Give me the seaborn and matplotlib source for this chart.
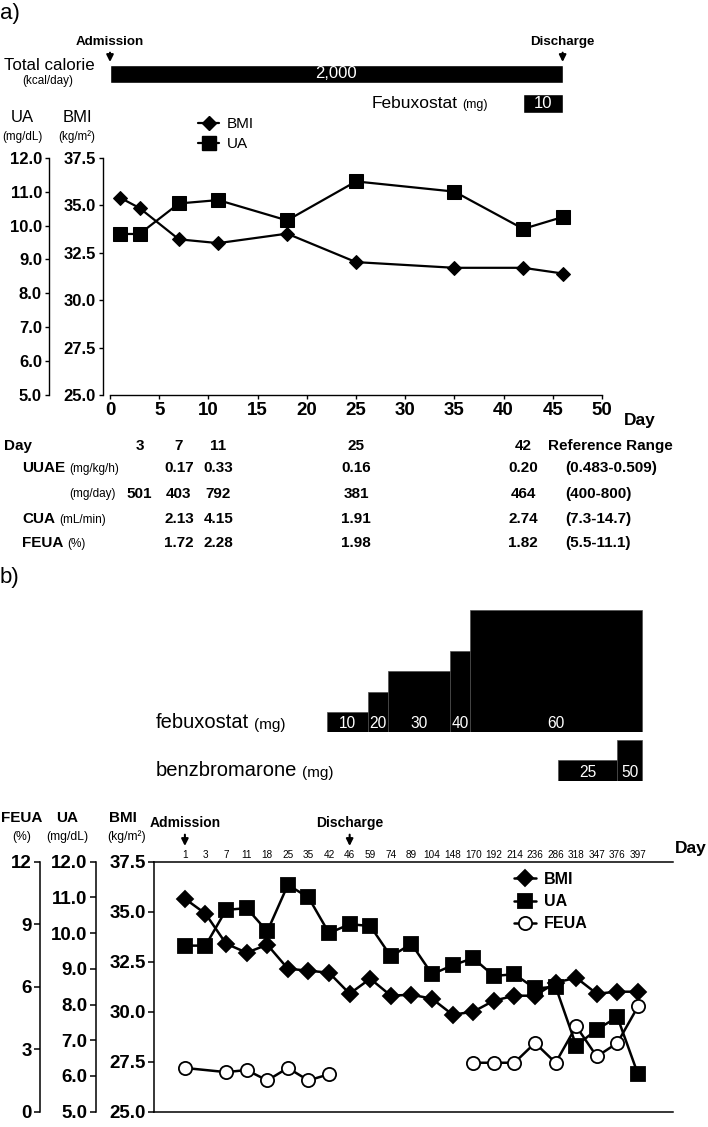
import numpy as np
import pandas as pd
import seaborn as sns
import matplotlib.pyplot as plt
from matplotlib.lines import Line2D
from matplotlib.transforms import blended_transform_factory

# ---------------- panel a) data ----------------
days_a = [1, 3, 7, 11, 18, 25, 35, 42, 46]
bmi_a = [35.4, 34.85, 33.2, 33.0, 33.5, 32.0, 31.7, 31.7, 31.4]
ua_a = [9.75, 9.75, 10.65, 10.75, 10.15, 11.3, 11.0, 9.9, 10.25]

admission_day_a = 0
discharge_day = 46
calorie_label = "2,000"
calorie_days = [0, 46]
febuxostat_a_label = "10"
febuxostat_a_days = [42, 46]

table_days = [3, 7, 11, 25, 42]
uuae_kgh = ["", "0.17", "0.33", "0.16", "0.20"]
uuae_mgday = ["501", "403", "792", "381", "464"]
cua_mlmin = ["", "2.13", "4.15", "1.91", "2.74"]
feua_pct = ["", "1.72", "2.28", "1.98", "1.82"]
ref_range = ["(0.483-0.509)", "(400-800)", "(7.3-14.7)", "(5.5-11.1)"]

# ---------------- panel b) data ----------------
days_b = [1, 3, 7, 11, 18, 25, 35, 42, 46, 59, 74, 89, 104, 148, 170,
          192, 214, 236, 286, 318, 347, 376, 397]
bmi_b = [35.65, 34.9, 33.4, 32.95, 33.35, 32.15, 32.05, 31.95, 30.9, 31.65,
         30.8, 30.85, 30.65, 29.85, 30.0, 30.55, 30.8, 30.8, 31.45, 31.7,
         30.9, 31.0, 31.0]
ua_b = [9.65, 9.65, 10.65, 10.7, 10.05, 11.35, 11.0, 10.0, 10.25, 10.2,
        9.35, 9.7, 8.85, 9.1, 9.3, 8.8, 8.85, 8.45, 8.5, 6.85, 7.3, 7.65, 6.05]
nan = np.nan
feua_b = [2.1, nan, 1.9, 2.0, 1.5, 2.1, 1.5, 1.8, nan, nan, nan, nan, nan,
          nan, 2.35, 2.35, 2.35, 3.3, 2.35, 4.1, 2.65, 3.3, 5.05]

# drug periods, in positions along the day axis of panel b
fbx_dose = [10, 20, 30, 40, 60]
fbx_start = [6.9, 8.9, 9.85, 12.85, 13.85]
fbx_stop = [8.9, 9.85, 12.85, 13.85, 22.2]
benz_dose = [25, 50]
benz_start = [18.1, 21.0]
benz_stop = [21.0, 22.2]

# ---------------- style ----------------
sns.set_style("ticks", {"axes.edgecolor": "black", "xtick.color": "black",
                        "ytick.color": "black", "text.color": "black",
                        "axes.labelcolor": "black"})
plt.rcParams["font.family"] = ["Liberation Sans", "DejaVu Sans"]

W, H = 708, 1127
fig = plt.figure(figsize=(W / 100, H / 100), dpi=100)


def fx(px):
    return px / W


def fy(py):
    return 1 - py / H


def rect(l, t, r, b):
    return [fx(l), fy(b), (r - l) / W, (b - t) / H]


def bold_ticks(ax):
    for lab in ax.get_xticklabels() + ax.get_yticklabels():
        lab.set_fontweight("bold")


def add_unit(ax, t, unit, size, gap=3):
    ax.annotate(unit, xy=(1, 0), xycoords=t, xytext=(gap, 0),
                textcoords="offset points", ha="left", va="bottom",
                fontsize=size, annotation_clip=False)


line_a = dict(color="k", linewidth=1.6, markeredgecolor="k", markerfacecolor="k")

# ================= panel a) =================
fig.text(0.0, fy(14), "a)", fontsize=16, va="center", ha="left")

ax_a = fig.add_axes(rect(110, 157.7, 602, 395))
sns.lineplot(x=days_a, y=bmi_a, ax=ax_a, marker="D", markersize=7.5, **line_a)
ax_a.set_xlim(0, 50)
ax_a.set_ylim(25, 37.5)
ax_a.set_xticks(range(0, 51, 5))
ax_a.set_yticks(np.arange(25, 37.6, 2.5))
ax_a.yaxis.set_major_formatter("{x:.1f}")
ax_a.spines[["top", "right"]].set_visible(False)
ax_a.spines["left"].set_position(("outward", 5))
for s in ax_a.spines.values():
    s.set_linewidth(1.0)
ax_a.tick_params(axis="y", length=3, width=1, labelsize=12, pad=2)
ax_a.tick_params(axis="x", length=3, width=1, labelsize=13.5, pad=2)
bold_ticks(ax_a)

ax_a_ua = ax_a.twinx()
sns.lineplot(x=days_a, y=ua_a, ax=ax_a_ua, marker="s", markersize=9.5, **line_a)
ax_a_ua.set_ylim(5, 12)
ax_a_ua.set_yticks(range(5, 13))
ax_a_ua.yaxis.set_major_formatter("{x:.1f}")
ax_a_ua.yaxis.set_ticks_position("left")
ax_a_ua.spines[["top", "right", "bottom"]].set_visible(False)
ax_a_ua.spines["left"].set_visible(True)
ax_a_ua.spines["left"].set_position(("outward", 44))
ax_a_ua.spines["left"].set_linewidth(1.0)
ax_a_ua.tick_params(axis="y", length=3, width=1, labelsize=12, pad=2)
ax_a_ua.set_ylabel("")
ax_a.set_ylabel("")
bold_ticks(ax_a_ua)

fig.text(fx(640), fy(421), "Day", fontsize=12.5, fontweight="bold",
         ha="center", va="center")

# axis headers
fig.text(fx(22), fy(118), "UA", fontsize=12, ha="center", va="center")
fig.text(fx(22), fy(137), "(mg/dL)", fontsize=8.4, ha="center", va="center")
fig.text(fx(77), fy(118), "BMI", fontsize=12, ha="center", va="center")
fig.text(fx(77), fy(137), "(kg/m²)", fontsize=8.4, ha="center", va="center")

fig.legend(handles=[Line2D([], [], marker="D", markersize=7.5, **line_a),
                    Line2D([], [], marker="s", markersize=9.5, **line_a)],
           labels=["BMI", "UA"], loc="upper left",
           bbox_to_anchor=(fx(198), fy(117)), frameon=False, fontsize=11,
           handlelength=1.4, handletextpad=0.5, labelspacing=0.4,
           borderpad=0, borderaxespad=0)

# header: calorie and febuxostat bars
ax_hdr = fig.add_axes(rect(110, 59.25, 602, 118.25))
ax_hdr.set_xlim(0, 50)
ax_hdr.set_ylim(1.5, -0.5)
ax_hdr.axis("off")
ax_hdr.barh(0, calorie_days[1] - calorie_days[0], left=calorie_days[0],
            height=0.61, color="k")
ax_hdr.barh(1, febuxostat_a_days[1] - febuxostat_a_days[0],
            left=febuxostat_a_days[0], height=0.64, color="k")
ax_hdr.text(np.mean(calorie_days), 0, calorie_label, color="w", fontsize=12,
            ha="center", va="center")
ax_hdr.text(np.mean(febuxostat_a_days), 1, febuxostat_a_label, color="w",
            fontsize=12, ha="center", va="center")
arrow_kw = dict(arrowstyle="-|>", color="k", lw=1.5, mutation_scale=10,
                shrinkA=1, shrinkB=0)
for day, name in [(admission_day_a, "Admission"), (discharge_day, "Discharge")]:
    ax_hdr.annotate(name, xy=(day, fy(62)), xycoords=("data", "figure fraction"),
                    xytext=(day, fy(42)), textcoords=("data", "figure fraction"),
                    ha="center", va="center", fontsize=9.6, fontweight="bold",
                    arrowprops=arrow_kw, annotation_clip=False)

fig.text(fx(49), fy(65), "Total calorie", fontsize=12.2, ha="center", va="center")
fig.text(fx(48), fy(81), "(kcal/day)", fontsize=8.4, ha="center", va="center")
t = fig.text(fx(372), fy(103.5), "Febuxostat", fontsize=12.5, ha="left",
             va="center")
add_unit(ax_hdr, t, "(mg)", 9)

# lab table below panel a
tr = blended_transform_factory(ax_a.transData, fig.transFigure)
row_y = [445.7, 468.3, 494.3, 519.3, 543.3]
tb = dict(fontsize=11, fontweight="bold", va="center")
fig.text(fx(4), fy(row_y[0]), "Day", ha="left", **tb)
t = fig.text(fx(22), fy(row_y[1]), "UUAE", ha="left", **tb)
add_unit(ax_a, t, "(mg/kg/h)", 8.5)
fig.text(fx(116), fy(row_y[2]), "(mg/day)", ha="right", va="center", fontsize=8.5)
t = fig.text(fx(22), fy(row_y[3]), "CUA", ha="left", **tb)
add_unit(ax_a, t, "(mL/min)", 8.5)
t = fig.text(fx(22), fy(row_y[4]), "FEUA", ha="left", **tb)
add_unit(ax_a, t, "(%)", 8.5)

rows = [[str(d) for d in table_days], uuae_kgh, uuae_mgday, cua_mlmin, feua_pct]
for y, vals in zip(row_y, rows):
    for d, v in zip(table_days, vals):
        ax_a.text(d, fy(y), v, transform=tr, ha="center", **tb)
fig.text(fx(548), fy(row_y[0]), "Reference Range", ha="left", **tb)
for y, v in zip(row_y[1:], ref_range):
    fig.text(fx(565), fy(y), v, ha="left", **tb)

# ================= panel b) =================
fig.text(0.0, fy(577), "b)", fontsize=16, va="center", ha="left")

idx_b = np.arange(len(days_b))
phase = np.where(np.array(days_b) <= discharge_day, "inpatient", "outpatient")
df_b = pd.DataFrame({"idx": idx_b, "bmi": bmi_b, "ua": ua_b,
                     "feua": feua_b, "phase": phase})

line_b = dict(color="k", linewidth=1.8, markeredgecolor="k", markeredgewidth=1.3)

ax_b = fig.add_axes(rect(154, 861.7, 673, 1111.7))
sns.lineplot(data=df_b, x="idx", y="bmi", ax=ax_b, marker="D", markersize=8.5,
             markerfacecolor="k", **line_b)
ax_b.set_xlim(-1.5, 23.7)
ax_b.set_ylim(25, 37.5)
ax_b.set_yticks(np.arange(25, 37.6, 2.5))
ax_b.yaxis.set_major_formatter("{x:.1f}")
ax_b.xaxis.set_ticks_position("top")
ax_b.set_xticks(idx_b, labels=[str(d) for d in days_b])
ax_b.tick_params(axis="x", length=0, pad=1.5, labelsize=7.2)
ax_b.tick_params(axis="y", length=4, width=1.1, labelsize=13.5, pad=2)
ax_b.spines["right"].set_visible(False)
for s in ax_b.spines.values():
    s.set_linewidth(1.1)
ax_b.set_xlabel("")
ax_b.set_ylabel("")
for lab in ax_b.get_yticklabels():
    lab.set_fontweight("bold")

ax_b_ua = ax_b.twinx()
sns.lineplot(data=df_b, x="idx", y="ua", ax=ax_b_ua, marker="s", markersize=10.5,
             markerfacecolor="k", **line_b)
ax_b_ua.set_ylim(5, 12)
ax_b_ua.set_yticks(range(5, 13))
ax_b_ua.yaxis.set_major_formatter("{x:.1f}")

ax_b_fe = ax_b.twinx()
sns.lineplot(data=df_b, x="idx", y="feua", units="phase", estimator=None,
             ax=ax_b_fe, marker="o", markersize=9.5, markerfacecolor="w", **line_b)
ax_b_fe.set_ylim(0, 12)
ax_b_fe.set_yticks(range(0, 13, 3))

for axt, off in [(ax_b_ua, 41.8), (ax_b_fe, 82)]:
    axt.yaxis.set_ticks_position("left")
    axt.spines[["top", "right", "bottom"]].set_visible(False)
    axt.spines["left"].set_visible(True)
    axt.spines["left"].set_position(("outward", off))
    axt.spines["left"].set_linewidth(1.1)
    axt.tick_params(axis="y", length=4, width=1.1, labelsize=13.5, pad=2)
    axt.set_ylabel("")
    for lab in axt.get_yticklabels():
        lab.set_fontweight("bold")

fig.text(fx(691), fy(848), "Day", fontsize=12.5, fontweight="bold",
         ha="center", va="center")
hb = dict(fontsize=11, fontweight="bold", ha="center", va="center")
hu = dict(fontsize=8.7, ha="center", va="center")
fig.text(fx(22), fy(818), "FEUA", **hb)
fig.text(fx(22), fy(837), "(%)", **hu)
fig.text(fx(67), fy(818), "UA", **hb)
fig.text(fx(67), fy(837), "(mg/dL)", **hu)
fig.text(fx(123), fy(818), "BMI", **hb)
fig.text(fx(127), fy(837), "(kg/m²)", **hu)

for day, name in [(days_b[0], "Admission"), (discharge_day, "Discharge")]:
    pos = days_b.index(day)
    ax_b.annotate(name, xy=(pos, fy(846)), xycoords=("data", "figure fraction"),
                  xytext=(pos, fy(823)), textcoords=("data", "figure fraction"),
                  ha="center", va="center", fontsize=10, fontweight="bold",
                  arrowprops=arrow_kw, annotation_clip=False)

fig.legend(handles=[Line2D([], [], marker="D", markersize=8.5, markerfacecolor="k", **line_b),
                    Line2D([], [], marker="s", markersize=10.5, markerfacecolor="k", **line_b),
                    Line2D([], [], marker="o", markersize=9.5, markerfacecolor="w", **line_b)],
           labels=["BMI", "UA", "FEUA"], loc="upper left",
           bbox_to_anchor=(fx(514), fy(872)), frameon=False,
           prop={"size": 11.5, "weight": "bold"}, handlelength=1.4,
           handletextpad=0.45, labelspacing=0.45, borderpad=0, borderaxespad=0)

# drug bars above panel b chart
ax_fbx = fig.add_axes(rect(154, 610, 673, 732.3))
ax_benz = fig.add_axes(rect(154, 739.5, 673, 781))
for axd, dose, st, sp, top in [(ax_fbx, fbx_dose, fbx_start, fbx_stop, 60),
                               (ax_benz, benz_dose, benz_start, benz_stop, 50)]:
    widths = np.subtract(sp, st)
    axd.bar(st, dose, width=widths, align="edge", color="k",
            edgecolor="0.3", linewidth=0.5)
    for s0, w, d in zip(st, widths, dose):
        axd.annotate(str(d), xy=(s0 + w / 2, 0), xytext=(0, 3),
                     textcoords="offset points", ha="center", va="baseline",
                     color="w", fontsize=11.2)
    axd.set_xlim(ax_b.get_xlim())
    axd.set_ylim(0, top)
    axd.axis("off")

t = fig.text(fx(156), fy(723), "febuxostat", fontsize=14.5, ha="left", va="center")
add_unit(ax_fbx, t, "(mg)", 11, gap=3.5)
t = fig.text(fx(156), fy(770), "benzbromarone", fontsize=14.5, ha="left", va="center")
add_unit(ax_benz, t, "(mg)", 11, gap=3.5)

fig.savefig("out.png", dpi=100)
